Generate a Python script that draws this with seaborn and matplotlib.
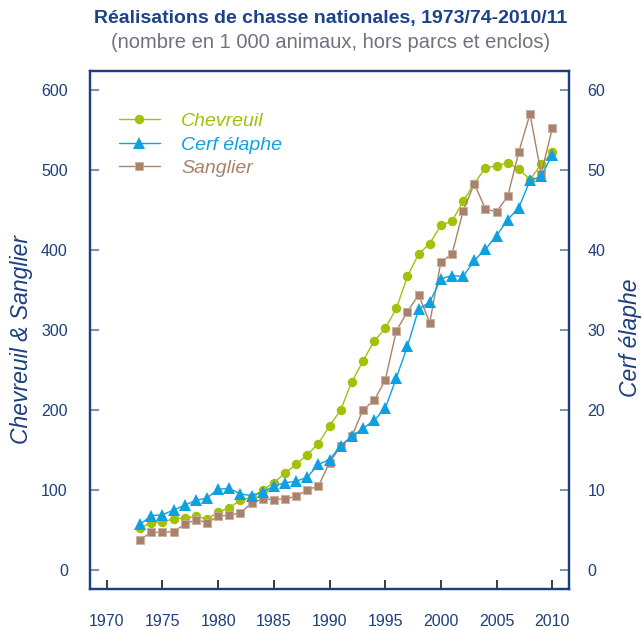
import matplotlib
matplotlib.use('Agg')
import matplotlib.pyplot as plt
import pandas as pd
import seaborn as sns

# Data (in 1 000 animals)
years = list(range(1973, 2011))
chevreuil = [53, 59, 60, 64, 65, 67, 64, 72, 78, 87, 91, 100, 109, 121, 132, 144, 158, 180,
             200, 235, 261, 286, 302, 327, 367, 395, 408, 431, 436, 461, 483, 503, 505, 509,
             501, 488, 507, 522]
cerf = [5.7, 6.8, 6.9, 7.5, 8.1, 8.7, 9.0, 10.1, 10.2, 9.5, 9.3, 9.7, 10.5, 10.9, 11.1, 11.6,
        13.2, 13.8, 15.5, 16.7, 17.7, 18.7, 20.2, 24.0, 28.0, 32.6, 33.5, 36.4, 36.8, 36.7,
        38.7, 40.1, 41.8, 43.8, 45.3, 48.7, 49.2, 51.9]
sanglier = [38, 47, 47, 48, 57, 63, 59, 67, 69, 71, 84, 89, 88, 89, 92, 100, 105, 134,
            155, 167, 200, 212, 237, 299, 323, 344, 309, 385, 395, 449, 483, 451, 448, 467,
            523, 570, 495, 552]

df = pd.DataFrame({'annee': years, 'Chevreuil': chevreuil,
                   'Cerf élaphe': cerf, 'Sanglier': sanglier})

green = '#a3c10a'
blue = '#0ea1e2'
brown = '#a8826a'
navy = '#1d3f7e'
tick_blue = '#6a88b8'

sns.set_style('white')
plt.rcParams['font.family'] = ['Liberation Sans', 'DejaVu Sans']

fig = plt.figure(figsize=(6.42, 6.28), dpi=100)
ax = fig.add_axes([90 / 642, 39 / 628, 479 / 642, 518 / 628])
ax2 = ax.twinx()

sns.lineplot(data=df, x='annee', y='Chevreuil', ax=ax, color=green, linewidth=1,
             marker='o', markersize=6.8, markeredgewidth=0, label='Chevreuil', legend=False)
sns.lineplot(data=df, x='annee', y='Sanglier', ax=ax, color=brown, linewidth=1,
             marker='s', markersize=5.5, markeredgewidth=0.6, markeredgecolor='#c9ad9a',
             label='Sanglier', legend=False)
sns.lineplot(data=df, x='annee', y='Cerf élaphe', ax=ax2, color=blue, linewidth=1,
             marker='^', markersize=8, markeredgewidth=0, label='Cerf élaphe', legend=False)

ax.set_xlim(1968.5, 2011.5)
ax.set_ylim(-23.75, 623.75)
ax2.set_ylim(-2.375, 62.375)
ax.set_xticks(range(1970, 2011, 5))
ax.set_yticks(range(0, 601, 100))
ax2.set_yticks(range(0, 61, 10))

ax.set_xlabel('')
ax.set_ylabel('')
ax2.set_ylabel('')

for a in (ax, ax2):
    for s in a.spines.values():
        s.set_color(navy)
        s.set_linewidth(1.6)
        s.set_visible(True)

ax.tick_params(axis='x', direction='in', length=6.5, width=1.3, color='#2b2b2b',
               labelsize=11.5, labelcolor=navy, pad=18, bottom=True)
ax.tick_params(axis='y', direction='in', length=6.3, width=1.3, color=tick_blue,
               labelsize=11.5, labelcolor=navy, pad=16, left=True)
ax2.tick_params(axis='y', direction='in', length=6.3, width=1.3, color=tick_blue,
                labelsize=11.5, labelcolor=navy, pad=13.5, right=True)

# axis titles
fig.text(22 / 642, 1 - 340 / 628, 'Chevreuil & Sanglier', rotation=90, ha='center',
         va='center', fontsize=16.5, style='italic', color=navy)
fig.text(630 / 642, 1 - 338 / 628, 'Cerf élaphe', rotation=90, ha='center',
         va='center', fontsize=16.5, style='italic', color=navy)

# titles
fig.text(331 / 642, 1 - 19 / 628, 'Réalisations de chasse nationales, 1973/74-2010/11',
         ha='center', va='center', fontsize=14, fontweight='bold', color='#1c4289')
fig.text(331 / 642, 1 - 43 / 628, '(nombre en 1 000 animaux, hors parcs et enclos)',
         ha='center', va='center', fontsize=14.5, color='#70727e')

# legend combining both axes
h1, l1 = ax.get_legend_handles_labels()
h2, l2 = ax2.get_legend_handles_labels()
handles = [h1[0], h2[0], h1[1]]
labels = [l1[0], l2[0], l1[1]]
leg = ax2.legend(handles, labels, loc='upper left', bbox_to_anchor=(0.044, 0.935),
                 frameon=False, fontsize=14, handlelength=2.1, handletextpad=1.1,
                 labelspacing=0.3, borderaxespad=0)
for txt, c in zip(leg.get_texts(), [green, blue, brown]):
    txt.set_color(c)
    txt.set_style('italic')

fig.savefig('out.png', dpi=100)
